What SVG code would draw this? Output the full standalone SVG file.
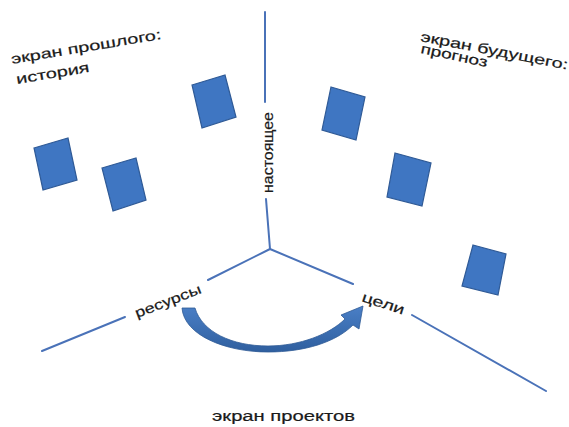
<svg xmlns="http://www.w3.org/2000/svg" width="569" height="427" viewBox="0 0 569 427">
  <style>
    .axis { stroke: #4a72b8; stroke-width: 2; fill: none; stroke-linecap: round; }
    .card { fill: #3f76c2; stroke: #2f5a96; stroke-width: 1.2; }
    .lbl { font-family: "Liberation Sans", Arial, sans-serif; font-size: 14px; fill: #1a1a1a; stroke: #1a1a1a; stroke-width: 0.2; }
  </style>
  <defs>
    <linearGradient id="arrowFill" x1="0" y1="0" x2="0" y2="1">
      <stop offset="0" stop-color="#4a7fc6"/>
      <stop offset="1" stop-color="#2f5f9f"/>
    </linearGradient>
  </defs>
  <rect width="569" height="427" fill="#ffffff"/>

  <!-- three axes meeting at the centre -->
  <g id="connectors">
    <line class="axis" x1="265" y1="12" x2="265" y2="102"/>
    <line class="axis" x1="266" y1="199" x2="270" y2="249"/>
    <line class="axis" x1="270" y1="249" x2="208" y2="280"/>
    <line class="axis" x1="125" y1="317" x2="42" y2="351"/>
    <line class="axis" x1="270" y1="249" x2="353" y2="284"/>
    <line class="axis" x1="412" y1="315" x2="546" y2="391"/>
    <!-- curved arrow from resources to goals -->
    <path d="M182,308 C184,335 225,352 268,352 C305,352 336,342 353,325 L359,329 L363,306 L341,315 L345,319 C330,334 300,346 268,346 C232,346 202,332 195,308 Z" fill="url(#arrowFill)" stroke="#2f5a96" stroke-width="0.8" stroke-linejoin="round"/>
  </g>

  <!-- past screen cards -->
  <g id="past-1"><polygon class="card" points="34,148 68,138 77,180 43,190"/></g>
  <g id="past-2"><polygon class="card" points="102,168 136,158 146,200 113,211"/></g>
  <g id="past-3"><polygon class="card" points="192,85 225,75 236,117 202,128"/></g>

  <!-- future screen cards -->
  <g id="future-1"><polygon class="card" points="331,87 365,97 356,140 322,130"/></g>
  <g id="future-2"><polygon class="card" points="395,153 431,163 422,206 387,197"/></g>
  <g id="future-3"><polygon class="card" points="473,245 506,254 498,295 462,286"/></g>

  <!-- labels -->
  <g id="label-past">
    <text class="lbl" transform="translate(12,64) rotate(-9.5)" textLength="152" lengthAdjust="spacingAndGlyphs">экран прошлого:</text>
    <text class="lbl" transform="translate(17,84) rotate(-9.5)" textLength="74" lengthAdjust="spacingAndGlyphs">история</text>
  </g>
  <g id="label-future">
    <text class="lbl" transform="translate(420,41) rotate(11)" textLength="150" lengthAdjust="spacingAndGlyphs">экран будущего:</text>
    <text class="lbl" transform="translate(420,53) rotate(12)" textLength="68" lengthAdjust="spacingAndGlyphs">прогноз</text>
  </g>
  <g id="label-present">
    <text class="lbl" transform="translate(273,193) rotate(-90)" textLength="81" lengthAdjust="spacingAndGlyphs">настоящее</text>
  </g>
  <g id="label-resources">
    <text class="lbl" transform="translate(137,318) rotate(-21)" textLength="70" lengthAdjust="spacingAndGlyphs">ресурсы</text>
  </g>
  <g id="label-goals">
    <text class="lbl" transform="translate(361,301) rotate(18)" textLength="44" lengthAdjust="spacingAndGlyphs">цели</text>
  </g>
  <g id="label-projects">
    <text class="lbl" x="212" y="421" textLength="143" lengthAdjust="spacingAndGlyphs">экран проектов</text>
  </g>
</svg>
